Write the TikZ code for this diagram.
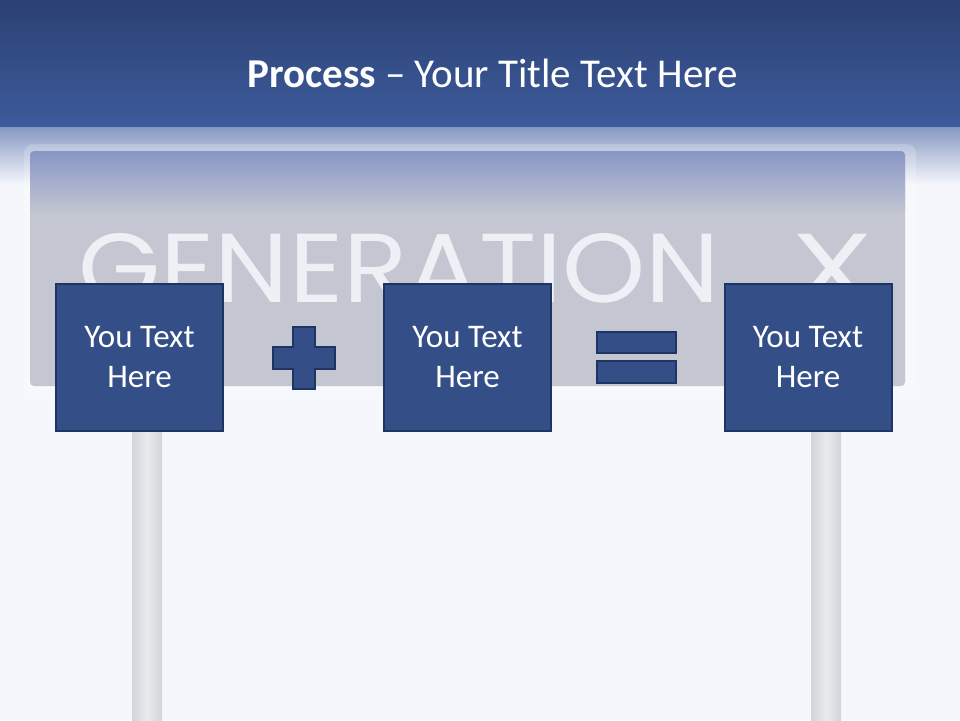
\documentclass[tikz,border=0pt]{standalone}
\usepackage{fontspec}
\setmainfont{Carlito}
\newfontfamily\signfont{Poppins}
\usepackage{xcolor}
\usepackage{tikz}
\usetikzlibrary{positioning,calc}
\definecolor{HeadTop}{HTML}{2B4174}
\definecolor{HeadBot}{HTML}{3D5B9B}
\definecolor{Paper}{HTML}{F5F7FC}
\definecolor{BoardTop}{HTML}{8896C5}
\definecolor{BoardGray}{HTML}{C4C7D2}
\definecolor{SignText}{HTML}{EEF0F5}
\definecolor{CardFill}{HTML}{344F88}
\definecolor{CardLine}{HTML}{1F3462}
\definecolor{PoleEdge}{HTML}{D3D4D8}
\definecolor{PoleMid}{HTML}{EAEBEE}

\begin{document}
\begin{tikzpicture}[
  x=1pt,y=-1pt,
  card/.style={draw=CardLine,line width=2pt,fill=CardFill,minimum width=167pt,minimum height=147pt,text=white,align=center,font=\fontsize{33}{40}\selectfont},
  symbol/.style={draw=CardLine,line width=2pt,fill=CardFill},
  signword/.style={inner sep=0pt,text depth=0pt,text=SignText,font=\signfont\fontsize{98}{100}\selectfont},
  pole/.style={left color=PoleEdge,right color=PoleEdge,middle color=PoleMid}
]
  \useasboundingbox (0,0) rectangle (960,720);
  \fill[Paper] (0,0) rectangle (960,720);
  \shade[top color=HeadTop,bottom color=HeadBot] (0,0) rectangle (960,127);
  \shade[top color=HeadBot!60!Paper,bottom color=Paper] (0,127) rectangle (960,185);
  \node[anchor=base,text=white,font=\fontsize{41}{48}\selectfont] (title) at (492.5,87) {\textbf{Process} -- Your Title Text Here};
  \fill[white,opacity=0.2,rounded corners=9pt] (24,144) rectangle (916,396);
  \fill[BoardGray,rounded corners=4pt] (30,151) rectangle (905,386);
  \shade[top color=BoardTop,bottom color=BoardGray,rounded corners=4pt] (30,151) rectangle (905,215);
  \node[signword,anchor=base west,xscale=1.08] (sign) at (78,302) {GENERATION};
  \node[signword,anchor=base west,xscale=1.35] (signx) at (791,302) {X};
  \shade[pole] (132,430) rectangle (162,720);
  \shade[pole] (811,430) rectangle (841,720);
  \node[card] (left) at (139.5,357.5) {You Text\\Here};
  \node[card] (middle) at (467.5,357.5) {You Text\\Here};
  \node[card] (right) at (808,357.5) {You Text\\Here};
  \draw[symbol] (293,327) -- (315,327) -- (315,347) -- (335,347) -- (335,369) -- (315,369)
    -- (315,389) -- (293,389) -- (293,369) -- (273,369) -- (273,347) -- (293,347) -- cycle;
  \draw[symbol] (597,332) rectangle (676,353);
  \draw[symbol] (597,361) rectangle (676,383);
\end{tikzpicture}
\end{document}
